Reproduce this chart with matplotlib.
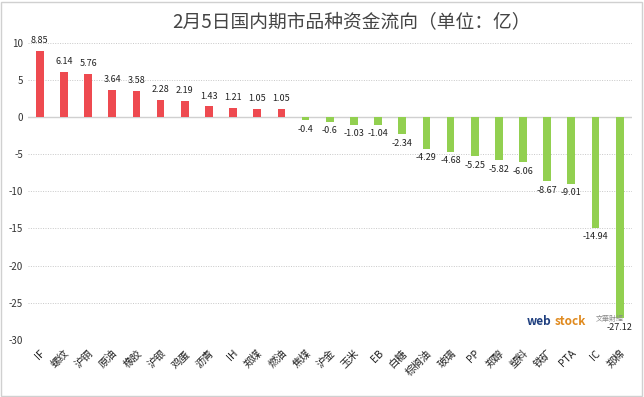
import numpy as np
import matplotlib.pyplot as plt

plt.rcParams['font.family'] = ['Noto Sans CJK SC', 'DejaVu Sans']

# data
categories = ['IF', '螺纹', '沪铜', '原油', '橡胶', '沪银', '鸡蛋', '沥青', 'IH', '郑煤',
              '燃油', '焦煤', '沪金', '玉米', 'EB', '白糖', '棕榈油', '玻璃', 'PP', '郑醇',
              '塑料', '铁矿', 'PTA', 'IC', '郑棉']
values = [8.85, 6.14, 5.76, 3.64, 3.58, 2.28, 2.19, 1.43, 1.21, 1.05,
          1.05, -0.4, -0.6, -1.03, -1.04, -2.34, -4.29, -4.68, -5.25, -5.82,
          -6.06, -8.67, -9.01, -14.94, -27.12]
yticks = [10, 5, 0, -5, -10, -15, -20, -25, -30]

RED = '#EE4A50'
GREEN = '#92D050'

fig = plt.figure(figsize=(6.44, 3.97), dpi=100)
ax = fig.add_axes([0.043, 0.144, 0.938, 0.748])

x = np.arange(len(categories))
colors = [RED if v > 0 else GREEN for v in values]
ax.bar(x, values, width=0.32, color=colors, zorder=3)

# value labels
for xi, v in zip(x, values):
    if v > 0:
        ax.text(xi, v + 0.8, f'{v:g}', ha='center', va='bottom', fontsize=6.5, color='#222222')
    else:
        ax.text(xi, v - 0.6, f'{v:g}', ha='center', va='top', fontsize=6.5, color='#222222')

ax.set_xlim(-0.5, len(categories) - 0.5)
ax.set_ylim(-30, 10)
ax.set_yticks(yticks)
ax.set_yticklabels([str(t) for t in yticks], fontsize=7, color='#333333')
ax.yaxis.grid(True, linestyle=(0, (1, 1.5)), color='#c8c8c8', linewidth=0.7, zorder=0)
ax.axhline(0, color='#d0d0d0', linewidth=1, zorder=2)

ax.set_xticks(x)
ax.set_xticklabels(categories, rotation=45, ha='right', rotation_mode='anchor',
                   fontsize=7.5, color='#222222')
ax.tick_params(axis='both', length=0)
ax.tick_params(axis='x', pad=6)
for s in ax.spines.values():
    s.set_visible(False)

fig.text(0.545, 0.945, '2月5日国内期市品种资金流向（单位：亿）', ha='center', va='center',
         fontsize=13.5, color='#444444')

# watermark
fig.text(0.818, 0.19, 'web', fontsize=8.5, color='#1f3f7f', fontweight='bold', ha='left', va='center')
fig.text(0.862, 0.19, 'stock', fontsize=8.5, color='#e08a1e', fontweight='bold', ha='left', va='center')
fig.text(0.925, 0.197, '文華財經', fontsize=5, color='#888888', ha='left', va='center')

# outer border
fig.patches.append(plt.Rectangle((0.002, 0.003), 0.995, 0.993, transform=fig.transFigure,
                                 fill=False, edgecolor='#d0d0d0', linewidth=1))

fig.savefig('out.png', dpi=100)
